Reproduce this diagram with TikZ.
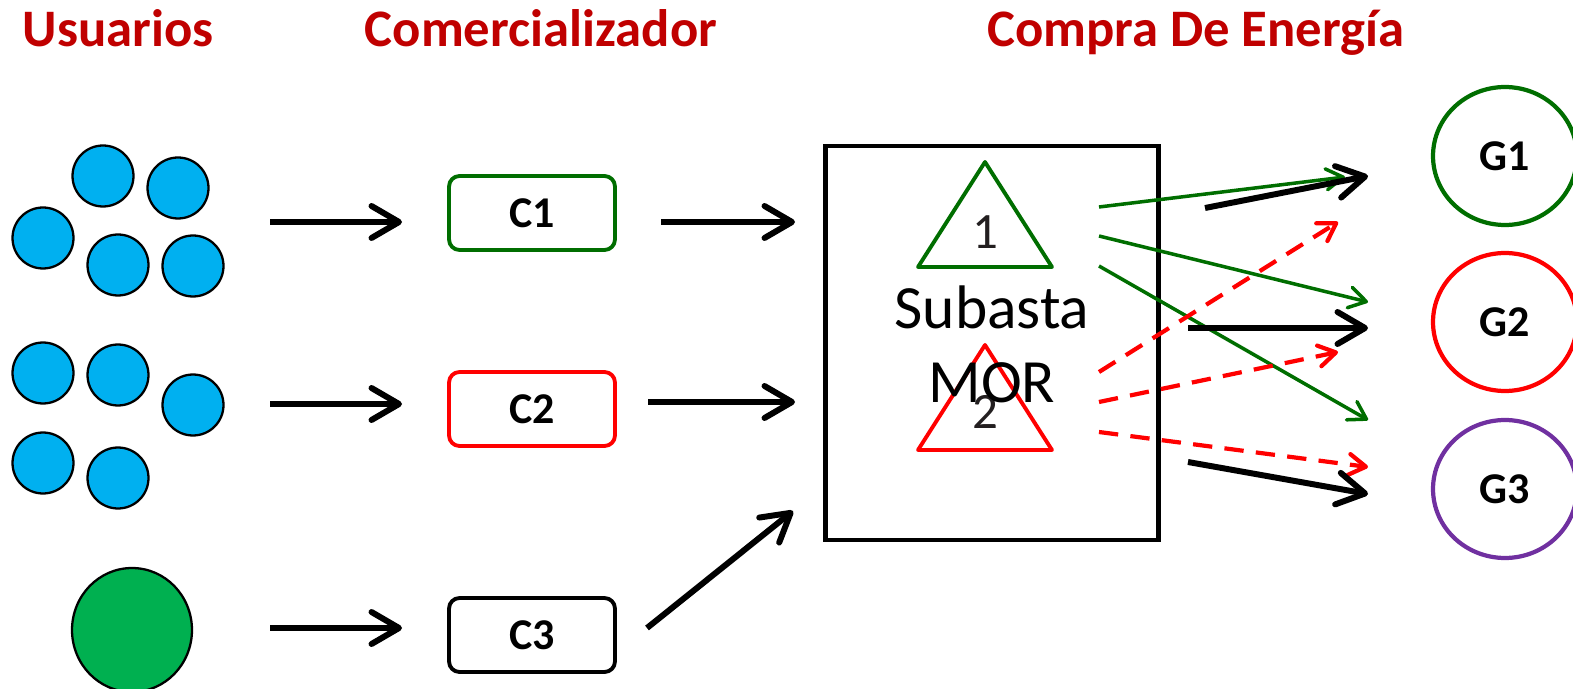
\documentclass[tikz,border=0pt]{standalone}
\usepackage{fontspec}
\setmainfont{Carlito}
\usetikzlibrary{arrows.meta,shapes.geometric,positioning}

\definecolor{rojotit}{RGB}{192,0,0}
\definecolor{verdeosc}{RGB}{0,110,0}
\definecolor{azul}{RGB}{0,176,240}
\definecolor{verde}{RGB}{0,176,80}
\definecolor{morado}{RGB}{112,48,160}
\definecolor{casinegro}{RGB}{35,31,32}

\begin{document}
\begin{tikzpicture}[
    x=0.02cm, y=-0.02cm,
    titulo/.style={text=rojotit, anchor=base, font=\fontsize{30}{36}\selectfont\bfseries},
    usuario/.style={circle, draw, line width=1.3pt, fill=azul, minimum size=1.22cm, inner sep=0pt},
    comer/.style={rectangle, draw, line width=2.2pt, rounded corners=6pt, minimum width=3.32cm, minimum height=1.48cm, font=\fontsize{25}{30}\selectfont\bfseries},
    gen/.style={ellipse, draw, line width=2.4pt, minimum width=2.88cm, minimum height=2.76cm, font=\fontsize{25}{30}\selectfont\bfseries},
    tri/.style={line width=2.2pt, line join=round},
    num/.style={text=casinegro, font=\fontsize{29}{32}\selectfont},
    flecha/.style={-{Straight Barb[round,length=0.55cm,width=0.64cm]}, line width=3.4pt},
    flechav/.style={-{Straight Barb[round,length=0.34cm,width=0.42cm]}, line width=2pt, verdeosc},
    flechar/.style={-{Straight Barb[round,length=0.34cm,width=0.42cm]}, line width=2.4pt, red, dash pattern=on 11pt off 7pt}
]
\useasboundingbox (0,0) rectangle (1573,689);

% titulos
\node[titulo] (tusu) at (118,47) {Usuarios};
\node[titulo] (tcom) at (541,47) {Comercializador};
\node[titulo] (tcompra) at (1196,47) {Compra De Energía};

% usuarios
\node[usuario] (u11) at (103,176) {};
\node[usuario] (u12) at (178,188) {};
\node[usuario] (u13) at (43,238) {};
\node[usuario] (u14) at (118,265) {};
\node[usuario] (u15) at (193,266) {};
\node[usuario] (u21) at (43,373) {};
\node[usuario] (u22) at (118,375) {};
\node[usuario] (u23) at (193,405) {};
\node[usuario] (u24) at (43,463) {};
\node[usuario] (u25) at (118,478) {};
\node[ellipse, draw, line width=1.3pt, fill=verde, minimum width=2.4cm, minimum height=2.48cm] (u3) at (132,630) {};

% comercializadores
\node[comer, draw=verdeosc] (c1) at (532,213) {C1};
\node[comer, draw=red] (c2) at (532,409) {C2};
\node[comer, draw=black] (c3) at (532,635) {C3};

% subasta
\node[rectangle, draw, line width=2.6pt, minimum width=6.66cm, minimum height=7.88cm] (subasta) at (992,343) {};
\draw[tri, verdeosc] (985,162) -- (1052,267) -- (918,267) -- cycle;
\draw[tri, red] (985,345) -- (1052,450) -- (918,450) -- cycle;
\node[num] (n1) at (985,232) {1};
\node[num] (n2) at (985,412) {2};
\node[align=center, font=\fontsize{35}{42}\selectfont] (mor) at (992,344) {Subasta\\MOR};

% generadores
\node[gen, draw=verdeosc] (g1) at (1505,156) {G1};
\node[gen, draw=red] (g2) at (1505,322) {G2};
\node[gen, draw=morado] (g3) at (1505,489) {G3};

% puntos de las flechas
\coordinate (a1) at (270,222); \coordinate (b1) at (402,222);
\coordinate (a2) at (270,404); \coordinate (b2) at (402,404);
\coordinate (a3) at (270,628); \coordinate (b3) at (402,628);
\coordinate (d1) at (661,222); \coordinate (e1) at (795,222);
\coordinate (d2) at (648,402); \coordinate (e2) at (795,402);
\coordinate (d3) at (647,628); \coordinate (e3) at (793,511);

\coordinate (v1) at (1099,207); \coordinate (w1) at (1345,177);
\coordinate (v2) at (1099,236); \coordinate (w2) at (1368,302);
\coordinate (v3) at (1099,266); \coordinate (w3) at (1368,420);
\coordinate (r1) at (1099,372); \coordinate (s1) at (1338,222);
\coordinate (r2) at (1099,402); \coordinate (s2) at (1338,352);
\coordinate (r3) at (1099,432); \coordinate (s3) at (1368,467);
\coordinate (k1) at (1205,208); \coordinate (m1) at (1368,176);
\coordinate (k2) at (1188,328); \coordinate (m2) at (1368,328);
\coordinate (k3) at (1188,462); \coordinate (m3) at (1368,494);

% usuarios -> comercializador -> subasta
\draw[flecha] (a1) -- (b1);
\draw[flecha] (a2) -- (b2);
\draw[flecha] (a3) -- (b3);
\draw[flecha] (d1) -- (e1);
\draw[flecha] (d2) -- (e2);
\draw[flecha] (d3) -- (e3);

% subasta -> generadores
\draw[flechav] (v1) -- (w1);
\draw[flechav] (v2) -- (w2);
\draw[flechav] (v3) -- (w3);
\draw[flechar] (r1) -- (s1);
\draw[flechar] (r2) -- (s2);
\draw[flechar] (r3) -- (s3);
\draw[flecha] (k1) -- (m1);
\draw[flecha] (k2) -- (m2);
\draw[flecha] (k3) -- (m3);

\end{tikzpicture}
\end{document}
